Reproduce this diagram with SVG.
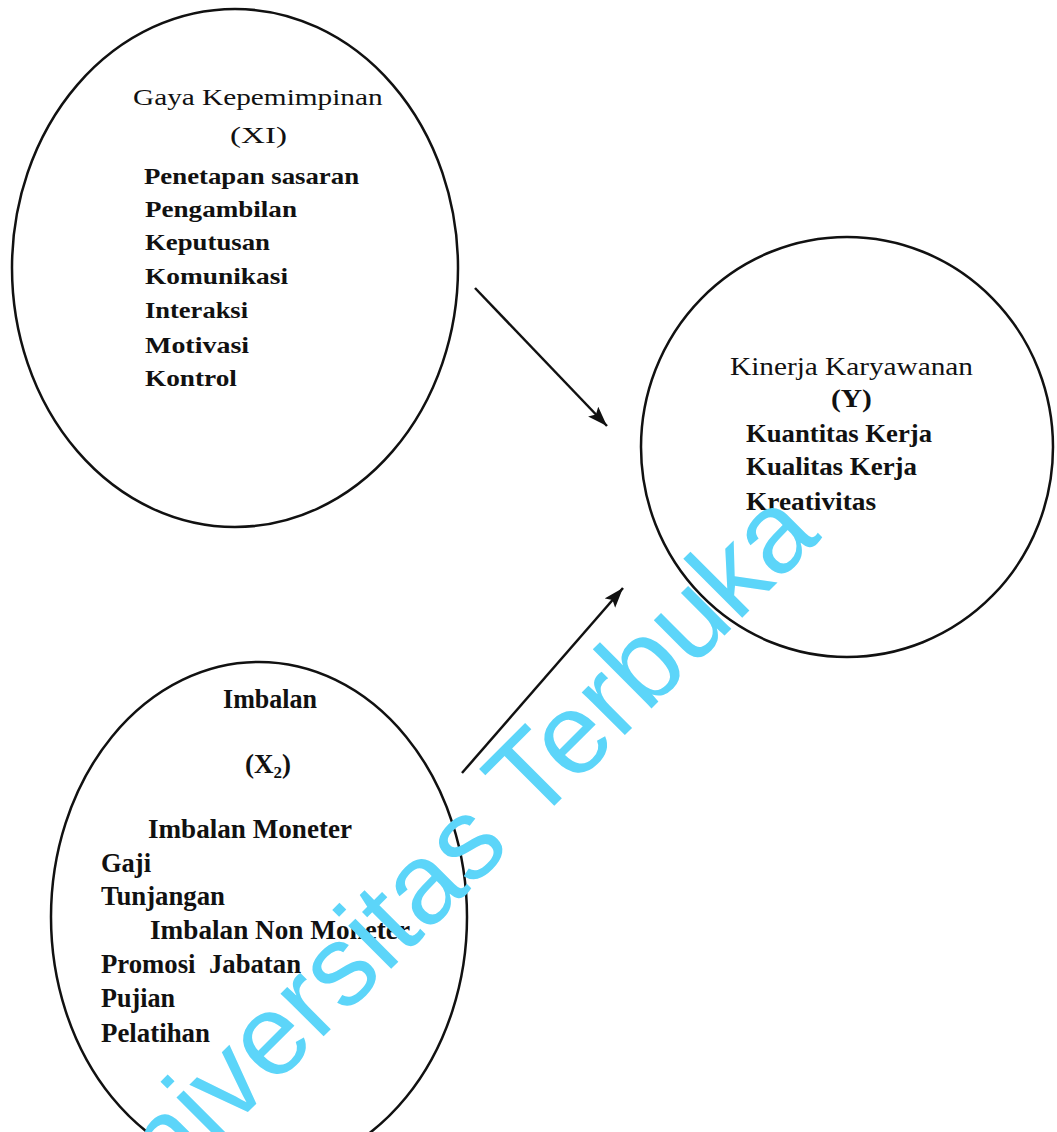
<svg xmlns="http://www.w3.org/2000/svg" width="1057" height="1132" viewBox="0 0 1057 1132">
  <style>
    .outline { fill: none; stroke: #111; stroke-width: 2.5; }
    .t { font-family: "Liberation Serif", "Times New Roman", serif; fill: #111; }
    .b { font-weight: bold; }
    .s1 { font-size: 24px; }
    .s2 { font-size: 25px; }
    .s3 { font-size: 27px; }
    .conn { fill: none; stroke: #111; stroke-width: 2.5; marker-end: url(#ah); }
    .wm { font-family: "Liberation Sans", Arial, sans-serif; font-size: 115px; fill: #5cd5f9; }
  </style>
  <defs>
    <marker id="ah" markerUnits="userSpaceOnUse" markerWidth="22" markerHeight="16" refX="20" refY="7" orient="auto">
      <path d="M0,0 L20,7 L0,14 L4,7 z" fill="#111"/>
    </marker>
  </defs>
  <rect width="1057" height="1132" fill="#ffffff"/>

  <g id="node-x1">
    <ellipse class="outline" cx="235" cy="268" rx="223" ry="259"/>
    <text class="t s1" transform="matrix(1.2 0 0 1 133 105)" textLength="208" lengthAdjust="spacingAndGlyphs">Gaya Kepemimpinan</text>
    <text class="t s1" transform="matrix(1.2 0 0 1 230 143)" textLength="47.5" lengthAdjust="spacingAndGlyphs">(XI)</text>
    <text class="t s1 b" transform="matrix(1.12 0 0 1 144 184)" textLength="192" lengthAdjust="spacingAndGlyphs">Penetapan sasaran</text>
    <text class="t s1 b" transform="matrix(1.12 0 0 1 145 217)" textLength="135.7" lengthAdjust="spacingAndGlyphs">Pengambilan</text>
    <text class="t s1 b" transform="matrix(1.12 0 0 1 145 250)" textLength="111.6" lengthAdjust="spacingAndGlyphs">Keputusan</text>
    <text class="t s1 b" transform="matrix(1.12 0 0 1 145 284)" textLength="127.7" lengthAdjust="spacingAndGlyphs">Komunikasi</text>
    <text class="t s1 b" transform="matrix(1.12 0 0 1 145 318)" textLength="92" lengthAdjust="spacingAndGlyphs">Interaksi</text>
    <text class="t s1 b" transform="matrix(1.12 0 0 1 145 353)" textLength="92.9" lengthAdjust="spacingAndGlyphs">Motivasi</text>
    <text class="t s1 b" transform="matrix(1.12 0 0 1 145 386)" textLength="82.1" lengthAdjust="spacingAndGlyphs">Kontrol</text>
  </g>

  <g id="node-y">
    <ellipse class="outline" cx="847" cy="447" rx="206" ry="210"/>
    <text class="t s2" transform="matrix(1.17 0 0 1 730 375)" textLength="207.7" lengthAdjust="spacingAndGlyphs">Kinerja Karyawanan</text>
    <text class="t s2 b" transform="matrix(1.17 0 0 1 831 407)" textLength="35" lengthAdjust="spacingAndGlyphs">(Y)</text>
    <text class="t s2 b" transform="matrix(1.08 0 0 1 746 442)" textLength="172.2" lengthAdjust="spacingAndGlyphs">Kuantitas Kerja</text>
    <text class="t s2 b" transform="matrix(1.08 0 0 1 746 475)" textLength="158.3" lengthAdjust="spacingAndGlyphs">Kualitas Kerja</text>
    <text class="t s2 b" transform="matrix(1.08 0 0 1 746 510)" textLength="120.4" lengthAdjust="spacingAndGlyphs">Kreativitas</text>
  </g>

  <g id="node-x2">
    <ellipse class="outline" cx="259" cy="917" rx="208" ry="255"/>
    <text class="t s3 b" x="223" y="708" textLength="94" lengthAdjust="spacingAndGlyphs">Imbalan</text>
    <text class="t s3 b" x="245" y="773">(X<tspan font-size="17" dy="5">2</tspan><tspan dy="-5">)</tspan></text>
    <text class="t s3 b" x="148" y="838" textLength="204" lengthAdjust="spacingAndGlyphs">Imbalan Moneter</text>
    <text class="t s3 b" x="101" y="872" textLength="50" lengthAdjust="spacingAndGlyphs">Gaji</text>
    <text class="t s3 b" x="101" y="905" textLength="124" lengthAdjust="spacingAndGlyphs">Tunjangan</text>
    <text class="t s3 b" x="150" y="939" textLength="260" lengthAdjust="spacingAndGlyphs">Imbalan Non Moneter</text>
    <text class="t s3 b" x="101" y="973" textLength="200" lengthAdjust="spacingAndGlyphs" style="white-space:pre">Promosi  Jabatan</text>
    <text class="t s3 b" x="101" y="1007" textLength="74" lengthAdjust="spacingAndGlyphs">Pujian</text>
    <text class="t s3 b" x="101" y="1042" textLength="109" lengthAdjust="spacingAndGlyphs">Pelatihan</text>
  </g>

  <text class="wm" x="110" y="1250" transform="rotate(-45 110 1250)">Universitas Terbuka</text>

  <g id="connectors">
    <line class="conn" x1="475" y1="288" x2="607" y2="426"/>
    <line class="conn" x1="462" y1="773" x2="623" y2="588"/>
  </g>
</svg>
